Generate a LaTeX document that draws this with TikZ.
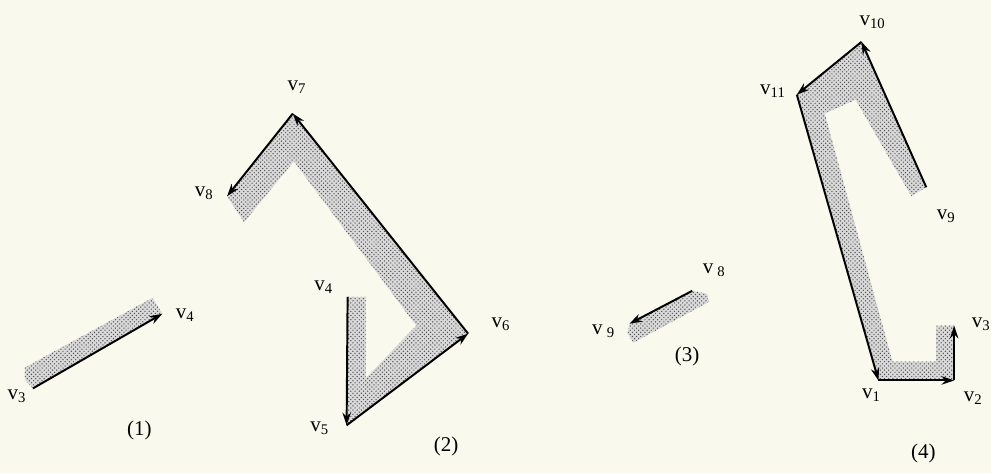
\documentclass[tikz,border=0pt]{standalone}
\usepackage{fontspec}
\setmainfont{Liberation Serif}
\usetikzlibrary{patterns, arrows.meta}
\definecolor{paper}{RGB}{250,249,238}
\begin{document}
\begin{tikzpicture}[x=0.025cm, y=-0.025cm, thick,
  every node/.style={font=\fontsize{15}{17}\selectfont},
  edge/.style={->, >={Stealth[length=9pt, width=6pt]}, line width=1.4pt},
  band/.style={fill=gray!30, postaction={pattern=crosshatch dots, pattern color=black!70}}]
  % Background
  \fill[paper] (0,0) rectangle (995,475);

  % (1): v3 -> v4
  \coordinate (A3) at (33,390);
  \coordinate (A4) at (163,315);
  \fill[band] (A3) -- (25,381) -- (25,369) -- (153,299) -- (A4) -- cycle;
  \draw[edge] (A3) -- (A4);
  \node (la3) at (17,398) {v\textsubscript{3}};
  \node (la4) at (186,316) {v\textsubscript{4}};
  \node (cap1) at (140,432) {(1)};

  % (2): v4 -> v5 -> v6 -> v7 -> v8
  \coordinate (B4) at (349,298);
  \coordinate (B5) at (348,427);
  \coordinate (B6) at (470,335);
  \coordinate (B7) at (294,114);
  \coordinate (B8) at (228,197);
  \fill[band] (B4) -- (367,298) -- (367,380) -- (418,327) -- (295,162)
    -- (245,223) -- (B8) -- (B7) -- (B6) -- (B5) -- cycle;
  \draw[edge] (B4) -- (B5);
  \draw[edge] (B5) -- (B6);
  \draw[edge] (B6) -- (B7);
  \draw[edge] (B7) -- (B8);
  \node (lb4) at (325,288) {v\textsubscript{4}};
  \node (lb5) at (321,430) {v\textsubscript{5}};
  \node (lb6) at (503,326) {v\textsubscript{6}};
  \node (lb7) at (298,88) {v\textsubscript{7}};
  \node (lb8) at (205,194) {v\textsubscript{8}};
  \node (cap2) at (448,448) {(2)};

  % (3): v8 -> v9
  \coordinate (C8) at (695,292);
  \coordinate (C9) at (632,325);
  \fill[band] (C9) -- (C8) -- (710,295) -- (712,303) -- (636,344) -- (630,335) -- cycle;
  \draw[edge] (C8) -- (C9);
  \node (lc8) at (717,271) {v\hspace{3pt}\textsubscript{8}};
  \node (lc9) at (606,333) {v\hspace{3pt}\textsubscript{9}};
  \node (cap3) at (690,358) {(3)};

  % (4): v9 -> v10 -> v11 -> v1 -> v2 -> v3
  \coordinate (D9) at (930,188);
  \coordinate (D10) at (865,42);
  \coordinate (D11) at (800,95);
  \coordinate (D1) at (882,382);
  \coordinate (D2) at (958,382);
  \coordinate (D3) at (958,327);
  \fill[band] (D9) -- (D10) -- (D11) -- (D1) -- (D2) -- (D3) -- (940,327)
    -- (940,363) -- (896,363) -- (828,114) -- (859,100) -- (915,197) -- cycle;
  \draw[edge] (D9) -- (D10);
  \draw[edge] (D10) -- (D11);
  \draw[edge] (D11) -- (D1);
  \draw[edge] (D1) -- (D2);
  \draw[edge] (D2) -- (D3);
  \node (ld10) at (876,22) {v\textsubscript{10}};
  \node (ld11) at (776,92) {v\textsubscript{11}};
  \node (ld9) at (950,217) {v\textsubscript{9}};
  \node (ld1) at (875,397) {v\textsubscript{1}};
  \node (ld2) at (977,400) {v\textsubscript{2}};
  \node (ld3) at (985,326) {v\textsubscript{3}};
  \node (cap4) at (927,455) {(4)};
\end{tikzpicture}
\end{document}
